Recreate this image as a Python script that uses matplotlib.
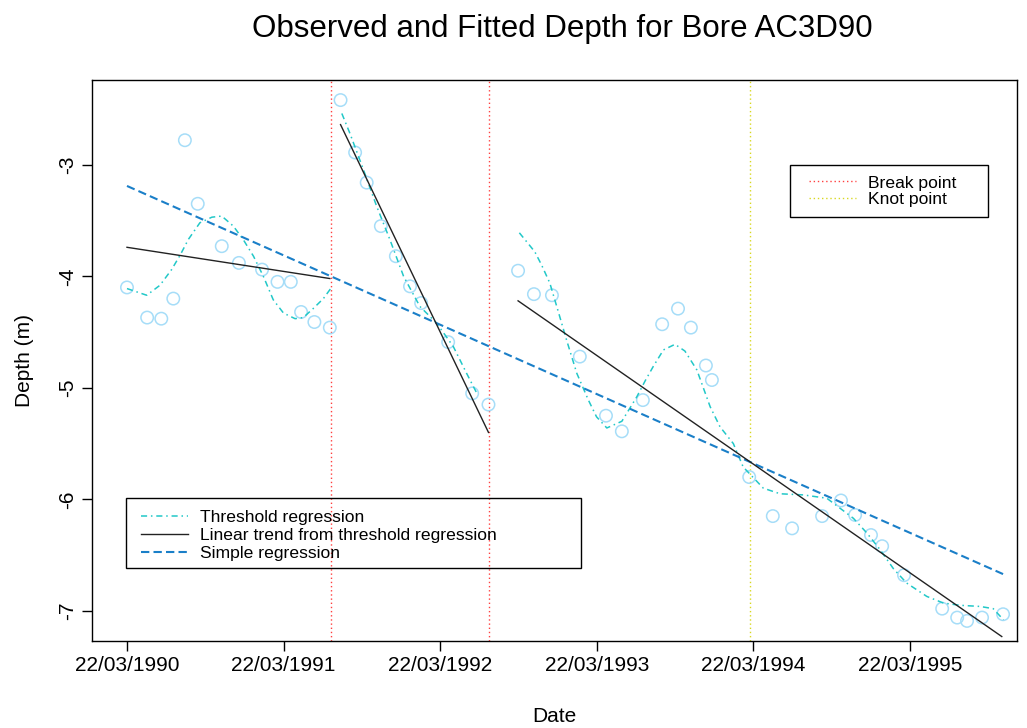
import datetime as dt
import matplotlib
matplotlib.use("Agg")
import matplotlib.pyplot as plt
import matplotlib.dates as mdates
from matplotlib.patches import Rectangle

plt.rcParams['font.family'] = ['Liberation Sans', 'DejaVu Sans']

# day offsets are counted from the first observation (22/03/1990)
start = dt.datetime(1990, 3, 22)

# observed depths
obs_day = [0, 47, 80, 108, 135, 165, 221, 261, 315, 351, 382, 406, 437, 473,
           498, 532, 559, 592, 627, 660, 686, 749, 805, 843,
           912, 949, 991, 1056, 1117, 1154, 1203, 1248, 1285, 1315, 1350, 1364,
           1451, 1506, 1551, 1621, 1665, 1698, 1735, 1761, 1812, 1901, 1936,
           1959, 1994, 2043]
obs_depth = [-4.10, -4.37, -4.38, -4.20, -2.78, -3.35, -3.73, -3.88, -3.94, -4.05,
             -4.05, -4.32, -4.41, -4.46,
             -2.42, -2.89, -3.16, -3.55, -3.82, -4.09, -4.24, -4.59, -5.05, -5.15,
             -3.95, -4.16, -4.17, -4.72, -5.25, -5.39, -5.11, -4.43, -4.29, -4.46,
             -4.80, -4.93, -5.80, -6.15, -6.26, -6.15, -6.01, -6.14, -6.32, -6.42,
             -6.68, -6.98, -7.06, -7.09, -7.06, -7.03]

# threshold regression fit, one piece per regime
thr1_day = [0, 46, 77, 104, 124, 143, 170, 198, 221, 248, 271, 295, 318, 341,
            365, 392, 411, 434, 458, 475]
thr1_depth = [-4.11, -4.17, -4.08, -3.94, -3.81, -3.67, -3.52, -3.47, -3.46, -3.55,
              -3.67, -3.82, -4.00, -4.21, -4.33, -4.38, -4.37, -4.29, -4.20, -4.11]
thr2_day = [501, 520, 551, 582, 613, 645, 683, 722, 761, 792, 816]
thr2_depth = [-2.54, -2.72, -3.04, -3.37, -3.67, -4.00, -4.27, -4.42, -4.63, -4.87, -5.05]
thr3_day = [915, 932, 951, 967, 986, 1006, 1025, 1049, 1076, 1095, 1119, 1154, 1189,
            1208, 1227, 1251, 1278, 1301, 1329, 1360, 1383, 1414, 1437, 1484, 1523,
            1577, 1632, 1663, 1694, 1725, 1756, 1787, 1818, 1865, 1904, 1943, 1989,
            2020, 2044]
thr3_depth = [-3.61, -3.69, -3.78, -3.90, -4.06, -4.32, -4.57, -4.87, -5.11, -5.26,
              -5.36, -5.30, -5.08, -4.94, -4.81, -4.66, -4.61, -4.67, -4.84, -5.17,
              -5.35, -5.50, -5.71, -5.90, -5.95, -5.96, -5.99, -6.08, -6.17, -6.30,
              -6.45, -6.62, -6.75, -6.87, -6.93, -6.95, -6.96, -6.98, -7.08]

# linear trend from threshold regression (start/end of each regime)
lin_day = [[0, 473], [498, 843], [912, 2040]]
lin_depth = [[-3.74, -4.02], [-2.64, -5.40], [-4.22, -7.23]]

# simple regression
simple_day = [0, 2043]
simple_depth = [-3.19, -6.67]

break_day = [476, 844]
knot_day = [1454]

tick_years = [1990, 1991, 1992, 1993, 1994, 1995]
y_ticks = [-7, -6, -5, -4, -3]


def to_dates(days):
    return [start + dt.timedelta(days=float(d)) for d in days]


fig = plt.figure(figsize=(10.27, 7.28), dpi=100)
ax = fig.add_axes([92 / 1027, 1 - 641 / 728, 925 / 1027, 561 / 728])

cyan = '#22C8C8'
blue = '#1A7FC8'
thr_dash = (4, 2.5, 1, 2.5)

for d in break_day:
    ax.axvline(to_dates([d])[0], color='#FF4040', lw=1, ls=(0, (1, 2)))
for d in knot_day:
    ax.axvline(to_dates([d])[0], color='#D8D820', lw=1, ls=(0, (1, 2)))

ax.scatter(to_dates(obs_day), obs_depth, s=80, facecolors='none',
           edgecolors='#A6DDF8', linewidths=1.1, zorder=2)

h_thr = None
for dd, yy in [(thr1_day, thr1_depth), (thr2_day, thr2_depth), (thr3_day, thr3_depth)]:
    h_thr, = ax.plot(to_dates(dd), yy, color=cyan, lw=1.1, ls=(0, thr_dash), zorder=3)

h_lin = None
for dd, yy in zip(lin_day, lin_depth):
    h_lin, = ax.plot(to_dates(dd), yy, color='#222222', lw=1.0, zorder=4)

h_simple, = ax.plot(to_dates(simple_day), simple_depth, color=blue, lw=1.5,
                    ls=(0, (4, 2)), zorder=3)

ax.set_xlim(to_dates([-81.6])[0], to_dates([2075.5])[0])
ax.set_ylim(-7.27, -2.24)

ax.set_xticks([dt.datetime(y, 3, 22) for y in tick_years])
ax.xaxis.set_major_formatter(mdates.DateFormatter('%d/%m/%Y'))
ax.set_yticks(y_ticks)
ax.set_yticklabels([str(v) for v in y_ticks], rotation=90, va='center')

ax.tick_params(direction='out', length=7, width=1, labelsize=15, pad=4)
for s in ax.spines.values():
    s.set_linewidth(1)

ax.set_xlabel('Date', fontsize=15, labelpad=23)
ax.set_ylabel('Depth (m)', fontsize=15, labelpad=17)
fig.text(562 / 1027, 1 - 29 / 728, 'Observed and Fitted Depth for Bore AC3D90',
         fontsize=22.5, ha='center', va='center')

# legends drawn R style: box plus frameless legend inside
leg1 = ax.legend([h_thr, h_lin, h_simple],
                 ['Threshold regression', 'Linear trend from threshold regression',
                  'Simple regression'],
                 loc='upper left', bbox_to_anchor=(0.053, 0.234), frameon=False,
                 fontsize=12.6, handlelength=2.7, handletextpad=0.65,
                 labelspacing=0.15, borderpad=0, borderaxespad=0)
ax.add_artist(leg1)
ax.add_patch(Rectangle((0.0368, 0.1301), 0.4919, 0.1248, transform=ax.transAxes,
                       fill=False, edgecolor='black', lw=1, zorder=5))

h_brk = plt.Line2D([], [], color='#FF4040', lw=1, ls=(0, (1, 2)))
h_knot = plt.Line2D([], [], color='#D8D820', lw=1, ls=(0, (1, 2)))
leg2 = ax.legend([h_brk, h_knot], ['Break point', 'Knot point'],
                 loc='upper left', bbox_to_anchor=(0.775, 0.830), frameon=False,
                 fontsize=12.6, handlelength=2.7, handletextpad=0.65,
                 labelspacing=0.08, borderpad=0, borderaxespad=0)
ax.add_patch(Rectangle((0.7546, 0.7558), 0.2141, 0.0927, transform=ax.transAxes,
                       fill=False, edgecolor='black', lw=1, zorder=5))

fig.savefig('out.png', dpi=100)
